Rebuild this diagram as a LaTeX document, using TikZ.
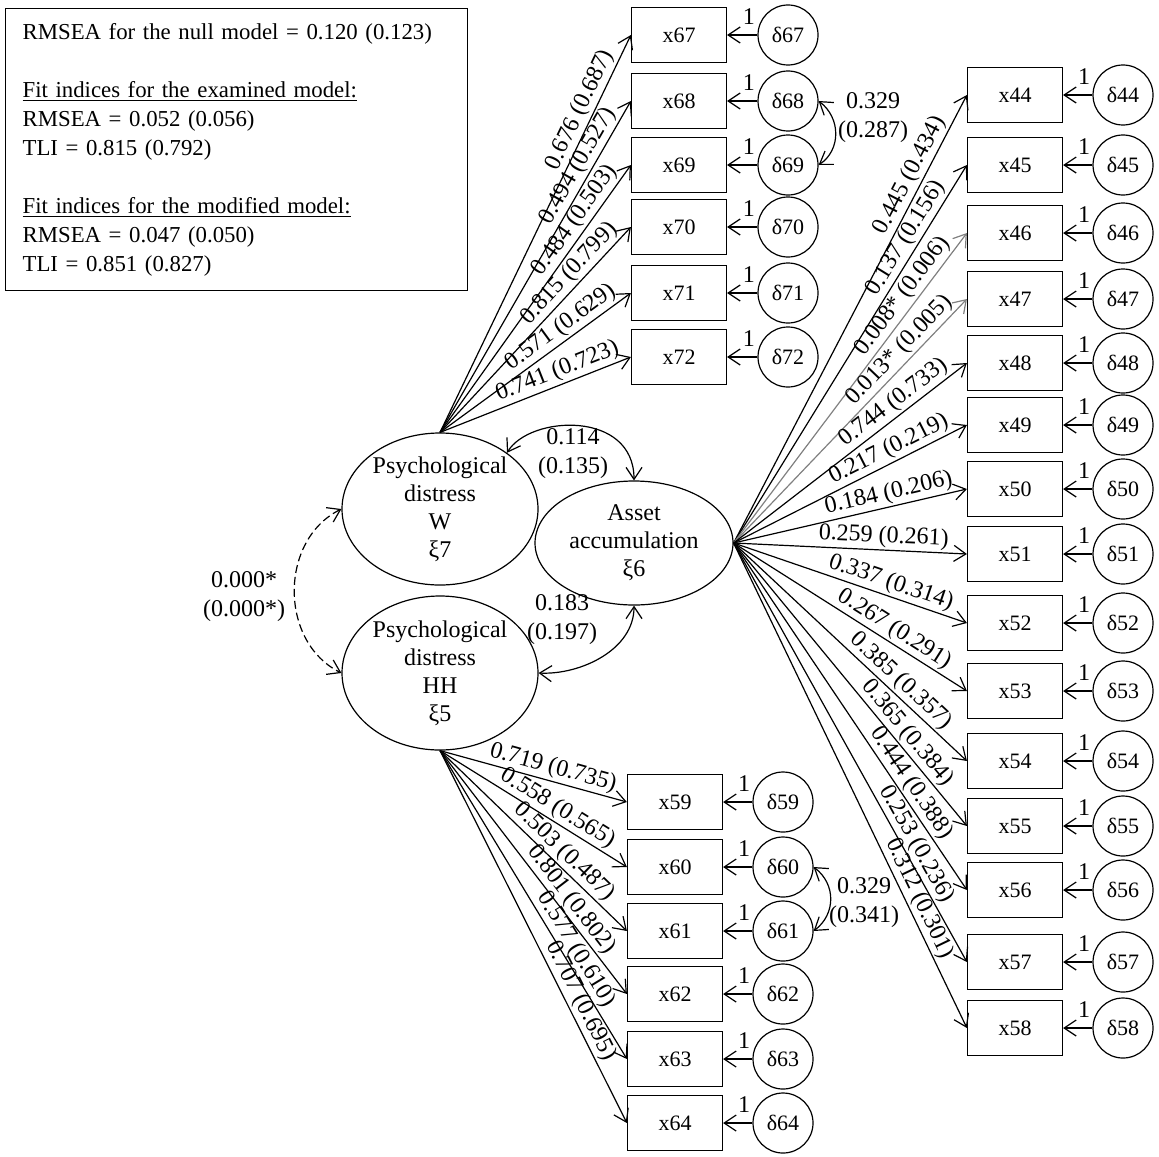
\documentclass[tikz,border=0pt]{standalone}
\usepackage{fontspec}
\setmainfont{Liberation Serif}
\usepackage{tikz}
\usetikzlibrary{arrows.meta,shapes.geometric,positioning}

\begin{document}
\begin{tikzpicture}[x=0.5pt,y=-0.5pt,semithick,
    font=\fontsize{12}{14}\selectfont,
    obs/.style={draw,rectangle,minimum width=47.5pt,minimum height=27.5pt,
      inner sep=0pt,font=\fontsize{11}{13}\selectfont},
    err/.style={draw,circle,minimum size=30pt,inner sep=0pt,
      font=\fontsize{11}{13}\selectfont},
    lat/.style={draw,ellipse,inner sep=0pt,align=center},
    load/.style={-{Straight Barb[length=6pt,width=8pt]}},
    cov/.style={{Straight Barb[length=6pt,width=8pt]}-{Straight Barb[length=6pt,width=8pt]}},
    coef/.style={sloped,anchor=south east,inner sep=1pt},
    one/.style={above,pos=.28,inner sep=2pt,yshift=3pt},
    est/.style={align=center,font=\fontsize{12}{14.5}\selectfont}]
  \useasboundingbox (0,0) rectangle (1159,1156);

  % Fit indices
  \node[draw,anchor=north west,text width=214pt,inner xsep=8.5pt,
    minimum height=141pt,align=left,
    font=\fontsize{11.4}{14.5}\selectfont]
    (fit) at (5,8) {RMSEA for the null model = 0.120 (0.123)\\[14.5pt]
      \underline{Fit indices for the examined model:}\\
      RMSEA = 0.052 (0.056)\\
      TLI = 0.815 (0.792)\\[14.5pt]
      \underline{Fit indices for the modified model:}\\
      RMSEA = 0.047 (0.050)\\
      TLI = 0.851 (0.827)};

  % Latent variables
  \node[lat,minimum width=98pt,minimum height=76pt] (W) at (440,509)
    {Psychological\\distress\\W\\ξ7};
  \node[lat,minimum width=99pt,minimum height=62pt] (Asset) at (634,543)
    {Asset\\accumulation\\ξ6};
  \node[lat,minimum width=98pt,minimum height=77pt] (HH) at (440,673)
    {Psychological\\distress\\HH\\ξ5};

  % Indicators of psychological distress W
  \foreach \n/\y/\p/\lab in {67/35/.95/{0.676 (0.687)},68/101/.96/{0.494 (0.527)},
      69/165/.97/{0.484 (0.503)},70/227/.97/{0.815 (0.799)},
      71/293/.96/{0.571 (0.629)},72/357/.97/{0.741 (0.723)}}{
    \node[obs] (x\n) at (679,\y) {x\n};
    \node[err] (d\n) at (788,\y) {δ\n};
    \draw[load] (d\n) -- node[one] {1} (x\n);
    \draw[load] (W.north) -- node[coef,pos=\p] {\lab} (x\n.west);
  }

  % Indicators of asset accumulation (grey: not significant)
  \foreach \n/\y/\c/\p/\lab in {44/95/black/.94/{0.445 (0.434)},
      45/165/black/.94/{0.137 (0.156)},46/233/gray/.96/{0.008* (0.006)},
      47/299/gray/.97/{0.013* (0.005)},48/363/black/.95/{0.744 (0.733)},
      49/425/black/.95/{0.217 (0.219)},50/489/black/.96/{0.184 (0.206)},
      51/554/black/.93/{0.259 (0.261)},52/623/black/.93/{0.337 (0.314)},
      53/691/black/.905/{0.267 (0.291)},54/761/black/.89/{0.385 (0.357)},
      55/826/black/.885/{0.365 (0.384)},56/890/black/.875/{0.444 (0.388)},
      57/962/black/.875/{0.253 (0.236)},58/1028/black/.87/{0.312 (0.301)}}{
    \node[obs] (x\n) at (1015,\y) {x\n};
    \node[err] (d\n) at (1123,\y) {δ\n};
    \draw[load] (d\n) -- node[one] {1} (x\n);
    \draw[load,draw=\c] (Asset.east) -- node[coef,pos=\p] {\lab} (x\n.west);
  }

  % Indicators of psychological distress HH
  \foreach \n/\y/\p/\lab in {59/802/.935/{0.719 (0.735)},60/867/.9/{0.558 (0.565)},
      61/931/.875/{0.503 (0.487)},62/994/.865/{0.801 (0.802)},
      63/1059/.855/{0.577 (0.610)},64/1123/.85/{0.707 (0.695)}}{
    \node[obs] (x\n) at (675,\y) {x\n};
    \node[err] (d\n) at (783,\y) {δ\n};
    \draw[load] (d\n) -- node[one] {1} (x\n);
    \draw[load] (HH.south) -- node[coef,pos=\p] {\lab} (x\n.west);
  }

  % Covariances
  \draw[cov] (W.40) .. controls (530,415) and (634,410) .. (Asset.north);
  \node[est] (rWA) at (573,454) {0.114\\(0.135)};
  \draw[cov] (HH.east) .. controls (580,675) and (634,650) .. (Asset.south);
  \node[est] (rHA) at (562,620) {0.183\\(0.197)};
  \draw[cov,dash pattern=on 4pt off 2pt] (W.west) .. controls (279,540) and (279,642) .. (HH.west);
  \node[est] (rWH) at (244,597) {0.000*\\(0.000*)};
  \draw[cov] (d68.east) .. controls (841,118) and (841,150) .. (d69.east);
  \node[est] (r6869) at (873,118) {0.329\\(0.287)};
  \draw[cov] (d60.east) .. controls (836,884) and (836,914) .. (d61.east);
  \node[est] (r6061) at (864,903) {0.329\\(0.341)};
\end{tikzpicture}
\end{document}
